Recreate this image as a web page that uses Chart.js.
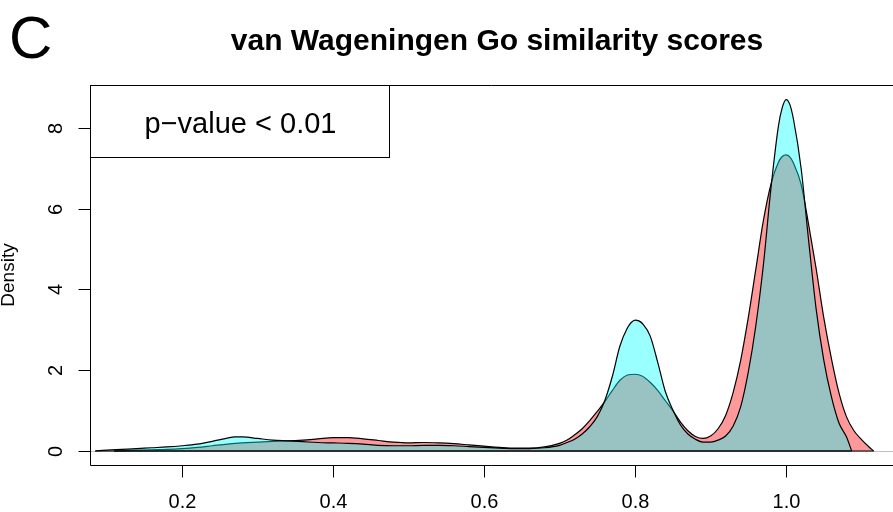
<!DOCTYPE html>
<html>
<head>
<meta charset="utf-8">
<script src="https://cdn.jsdelivr.net/npm/chart.js@4/dist/chart.umd.min.js"></script>
<style>
  html, body { margin: 0; padding: 0; background: #fff; }
  #c { display: block; }
</style>
</head>
<body>
<canvas id="c" width="893" height="512"></canvas>
<script>
// ---- Data ----
const panelLabel = "C";
const chartTitle = "van Wageningen Go similarity scores";
const yAxisTitle = "Density";
const legendText = "p\u2212value < 0.01";

const xTicks = [0.2, 0.4, 0.6, 0.8, 1.0];
const xTickLabels = ["0.2", "0.4", "0.6", "0.8", "1.0"];
const yTicks = [0, 2, 4, 6, 8];
const yTickLabels = ["0", "2", "4", "6", "8"];

// cyan density curve
const cyanX = [0.085,0.10,0.12,0.14,0.16,0.18,0.20,0.22,0.24,0.26,0.27,0.28,0.30,0.32,0.34,0.36,0.38,0.40,0.42,0.44,0.46,0.48,0.50,0.52,0.54,0.56,0.58,0.60,0.62,0.64,0.66,0.68,0.70,0.71,0.72,0.73,0.74,0.75,0.76,0.77,0.78,0.79,0.795,0.80,0.805,0.81,0.82,0.83,0.84,0.85,0.86,0.87,0.88,0.89,0.90,0.91,0.92,0.93,0.94,0.95,0.96,0.97,0.98,0.99,0.995,1.00,1.005,1.01,1.02,1.03,1.04,1.05,1.06,1.07,1.08,1.087];
const cyanY = [0,0.02,0.04,0.06,0.08,0.10,0.13,0.17,0.24,0.32,0.35,0.35,0.31,0.27,0.25,0.23,0.21,0.20,0.19,0.17,0.14,0.13,0.13,0.14,0.14,0.13,0.11,0.09,0.07,0.06,0.06,0.08,0.14,0.21,0.29,0.42,0.60,0.85,1.25,1.85,2.60,3.05,3.18,3.24,3.22,3.15,2.85,2.20,1.48,1.02,0.65,0.42,0.29,0.22,0.22,0.27,0.37,0.62,1.10,1.95,3.10,4.60,6.50,8.05,8.50,8.70,8.58,8.20,7.00,5.20,3.50,2.25,1.35,0.70,0.35,0];

// red density curve
const redX = [0.11,0.12,0.14,0.16,0.18,0.20,0.22,0.24,0.26,0.28,0.30,0.32,0.34,0.36,0.38,0.40,0.42,0.44,0.46,0.48,0.50,0.52,0.54,0.56,0.58,0.60,0.62,0.64,0.66,0.68,0.70,0.71,0.72,0.73,0.74,0.75,0.76,0.77,0.78,0.79,0.80,0.81,0.82,0.83,0.84,0.85,0.86,0.87,0.88,0.89,0.90,0.91,0.92,0.93,0.94,0.95,0.96,0.97,0.98,0.99,0.995,1.00,1.005,1.01,1.02,1.03,1.04,1.05,1.06,1.07,1.08,1.09,1.10,1.11,1.116];
const redY = [0,0.01,0.02,0.03,0.04,0.06,0.09,0.13,0.17,0.20,0.22,0.24,0.25,0.27,0.30,0.33,0.33,0.30,0.26,0.22,0.20,0.21,0.20,0.18,0.15,0.12,0.09,0.07,0.07,0.10,0.19,0.27,0.40,0.55,0.75,0.98,1.22,1.50,1.75,1.88,1.90,1.85,1.70,1.50,1.25,1.00,0.72,0.50,0.36,0.31,0.37,0.55,0.88,1.45,2.25,3.30,4.50,5.70,6.60,7.15,7.29,7.33,7.28,7.12,6.60,5.60,4.50,3.30,2.30,1.45,0.85,0.50,0.28,0.10,0];

const toPts = (xs, ys) => xs.map((x, i) => ({ x: x, y: ys[i] }));

const FONT = '"Liberation Sans", Arial, Helvetica, sans-serif';

const decor = {
  id: 'decor',
  beforeDatasetsDraw(chart) {
    const { ctx, chartArea: a, scales: { y } } = chart;
    const y0 = Math.round(y.getPixelForValue(0)) + 0.5;
    ctx.save();
    ctx.strokeStyle = '#bebebe';
    ctx.lineWidth = 1;
    ctx.beginPath();
    ctx.moveTo(a.left, y0); ctx.lineTo(a.right, y0);
    ctx.stroke();
    ctx.restore();
  },
  afterDatasetsDraw(chart) {
    const { ctx, scales: { x, y } } = chart;
    const y0 = y.getPixelForValue(0);
    ctx.save();
    ctx.strokeStyle = '#000';
    ctx.lineWidth = 1.2;
    [redX, cyanX].forEach((xs) => {
      ctx.beginPath();
      ctx.moveTo(x.getPixelForValue(xs[0]), y0);
      ctx.lineTo(x.getPixelForValue(xs[xs.length - 1]), y0);
      ctx.stroke();
    });
    ctx.restore();
  },
  afterDraw(chart) {
    const { ctx, chartArea: a, scales: { x, y } } = chart;
    ctx.save();
    ctx.strokeStyle = '#000';
    ctx.fillStyle = '#000';
    ctx.lineWidth = 1;
    // frame (left, top, bottom)
    const L = a.left + 0.5, T = a.top + 0.5, B = a.bottom + 0.5;
    ctx.beginPath();
    ctx.moveTo(a.right, T); ctx.lineTo(L, T); ctx.lineTo(L, B); ctx.lineTo(a.right, B);
    ctx.stroke();
    // x ticks
    ctx.font = '20px ' + FONT;
    ctx.textAlign = 'center';
    ctx.textBaseline = 'alphabetic';
    xTicks.forEach((v, i) => {
      const px = Math.round(x.getPixelForValue(v)) + 0.5;
      ctx.beginPath();
      ctx.moveTo(px, B); ctx.lineTo(px, B + 12);
      ctx.stroke();
      ctx.fillText(xTickLabels[i], px, 508);
    });
    // y ticks
    yTicks.forEach((v, i) => {
      const py = Math.round(y.getPixelForValue(v)) + 0.5;
      ctx.beginPath();
      ctx.moveTo(L, py); ctx.lineTo(L - 12, py);
      ctx.stroke();
      ctx.save();
      ctx.translate(62, py);
      ctx.rotate(-Math.PI / 2);
      ctx.fillText(yTickLabels[i], 0, 0);
      ctx.restore();
    });
    // y axis title
    ctx.save();
    ctx.font = '19px ' + FONT;
    ctx.translate(14, (a.top + a.bottom) / 2);
    ctx.rotate(-Math.PI / 2);
    ctx.fillText(yAxisTitle, 0, 0);
    ctx.restore();
    // title
    ctx.font = 'bold 30px ' + FONT;
    ctx.fillText(chartTitle, 497, 50);
    // panel label
    ctx.font = '60px ' + FONT;
    ctx.textAlign = 'left';
    ctx.fillText(panelLabel, 9, 58);
    // legend box
    ctx.fillStyle = '#fff';
    ctx.fillRect(L, T, 299, 72);
    ctx.strokeRect(L, T, 299, 72);
    ctx.fillStyle = '#000';
    ctx.font = '29px ' + FONT;
    ctx.textAlign = 'center';
    ctx.fillText(legendText, L + 150, 133);
    ctx.restore();
  }
};

new Chart(document.getElementById('c'), {
  type: 'line',
  data: {
    datasets: [
      {
        label: 'cyan',
        data: toPts(cyanX, cyanY),
        borderColor: '#000',
        borderWidth: 1.2,
        backgroundColor: 'rgba(0,255,255,0.4)',
        fill: 'origin',
        pointRadius: 0,
        cubicInterpolationMode: 'monotone',
        tension: 0.4
      },
      {
        label: 'red',
        data: toPts(redX, redY),
        borderColor: '#000',
        borderWidth: 1.2,
        backgroundColor: 'rgba(255,0,0,0.4)',
        fill: 'origin',
        pointRadius: 0,
        cubicInterpolationMode: 'monotone',
        tension: 0.4
      }
    ]
  },
  options: {
    responsive: false,
    devicePixelRatio: 1,
    animation: false,
    layout: { padding: { left: 90, top: 85, right: 0, bottom: 47 } },
    plugins: { legend: { display: false }, tooltip: { enabled: false }, title: { display: false } },
    scales: {
      x: { type: 'linear', display: false, min: 0.0781, max: 1.1417 },
      y: { type: 'linear', display: false, min: -0.347, max: 9.06 }
    }
  },
  plugins: [decor]
});
</script>
</body>
</html>
